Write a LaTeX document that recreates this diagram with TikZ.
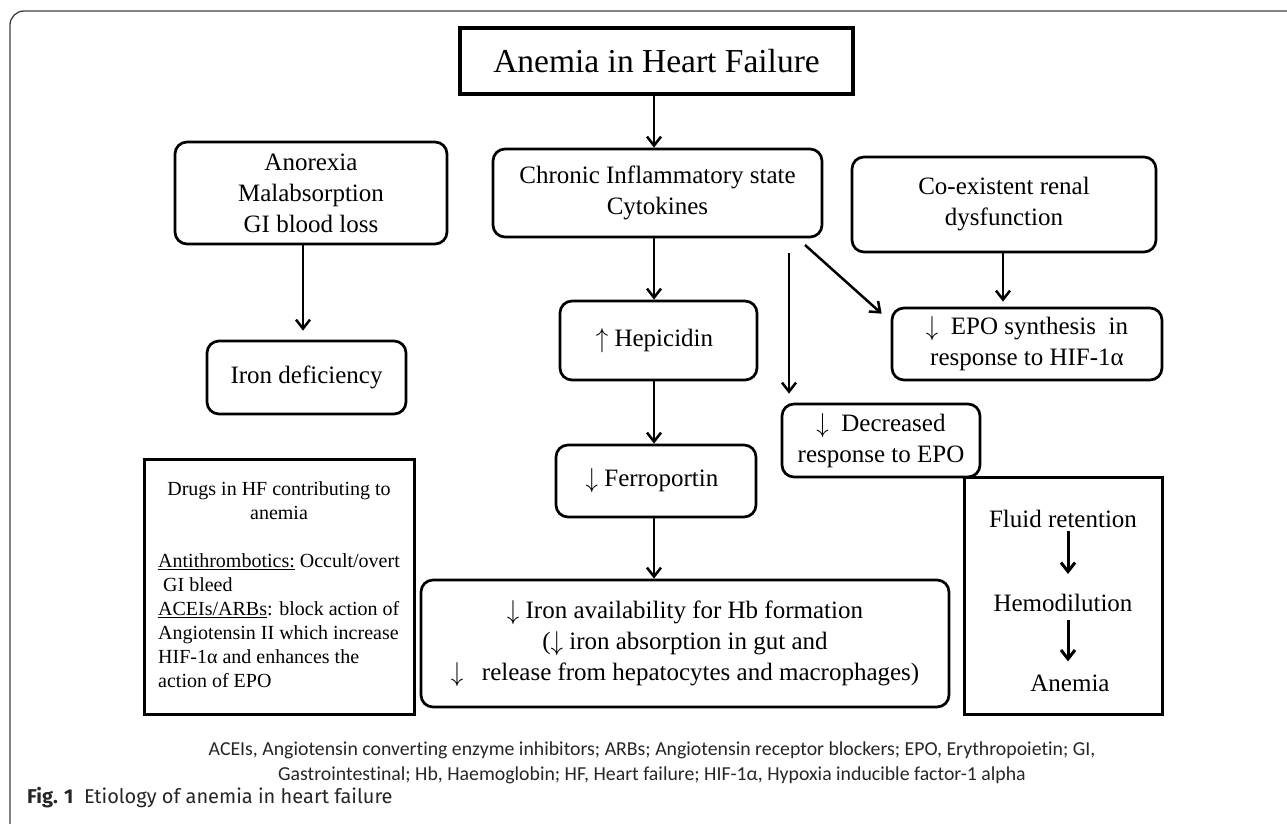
\documentclass[tikz,border=0pt]{standalone}
\usepackage{fontspec}
\usepackage{graphicx}
\setmainfont{Liberation Serif}
\newfontfamily\capfont[Ligatures=NoCommon]{Carlito}
\newfontfamily\figfont{Fira Sans}
\usetikzlibrary{arrows.meta}
\newcommand{\dn}{\raisebox{-1pt}{\scalebox{1}[1.1]{$\downarrow$}}}
\newcommand{\upa}{\raisebox{-1pt}{\scalebox{1}[1.1]{$\uparrow$}}}
\begin{document}
\begin{tikzpicture}[x=1pt,y=-1pt,
  box/.style={draw, line width=2.7pt, rounded corners=12pt, align=center, inner sep=0pt, font=\fontsize{25}{31}\selectfont},
  sqbox/.style={draw, line width=3pt, inner sep=0pt},
  arr/.style={line width=2.5pt, -{Straight Barb[length=9pt,width=14pt]}},
  plain/.style={inner sep=3pt, font=\fontsize{25}{30}\selectfont},
  ]
\useasboundingbox (0,0) rectangle (1287,824);
\draw[line width=1.3pt, black!75, rounded corners=14pt] (10,824) -- (10,11) -- (1287,11);

\coordinate (cx) at (654,0);
\coordinate (ax) at (303,0);

\node[box, rounded corners=0pt, line width=4pt, minimum width=393pt, minimum height=66pt, font=\fontsize{33.5}{38}\selectfont] (title) at (656.5,61) {Anemia in Heart Failure};
\node[box, minimum width=329pt, minimum height=88pt] (chronic) at (657.5,193) {Chronic Inflammatory state\\Cytokines};
\node[box, minimum width=272pt, minimum height=102pt] (anor) at (311,193) {Anorexia\\Malabsorption\\GI blood loss};
\node[box, minimum width=199pt, minimum height=73pt] (irondef) at (306.5,377.5) {Iron deficiency};
\node[box, minimum width=197pt, minimum height=79pt] (hep) at (658.5,340.5) {\upa\ Hepicidin\hspace{8pt}};
\node[box, minimum width=304pt, minimum height=95pt] (renal) at (1004,204.5) {Co-existent renal\\dysfunction};
\node[box, minimum width=270pt, minimum height=72pt] (epo) at (1027,344) {\dn\ \ EPO synthesis\ \ in\\response to HIF-1α};
\node[box, minimum width=198pt, minimum height=73pt] (dec) at (881,440.5) {\dn\ \ Decreased\hspace{16pt}\\response to EPO};
\node[box, minimum width=200pt, minimum height=72pt] (ferro) at (656,481) {\dn\ Ferroportin\hspace{8pt}};
\node[box, minimum width=528pt, minimum height=127pt] (avail) at (685,643.5) {\dn\ Iron availability for Hb formation\\(\dn\ iron absorption in gut and\\\dn\ \ \ release from hepatocytes and macrophages)};

\node[sqbox, minimum width=270pt, minimum height=255pt, font=\fontsize{20}{24}\selectfont] (drugs) at (279,586.5)
 {\begin{tabular}{@{}l@{}}
 \multicolumn{1}{@{}c@{}}{Drugs in HF contributing to}\\
 \multicolumn{1}{@{}c@{}}{anemia}\\[24pt]
 \underline{Antithrombotics:} Occult/overt\\
 \ GI bleed\\
 \underline{ACEIs/ARBs}: block action of\\
 Angiotensin II which increase\\
 HIF-1α and enhances the\\
 action of EPO
 \end{tabular}\hspace{10pt}};

\node[sqbox, minimum width=198pt, minimum height=237pt] (fluidbox) at (1063,595.5) {};
\node[plain] (fl) at (1063,519) {Fluid retention};
\node[plain] (hd) at (1063,603) {Hemodilution};
\node[plain] (an) at (1070,683) {Anemia};

\coordinate (d1) at (805,245);
\coordinate (v1) at (789,253);

\draw[arr] (title.south -| cx) -- (chronic.north -| cx);
\draw[arr] (chronic.south -| cx) -- (hep.north -| cx);
\draw[arr] (hep.south -| cx) -- (ferro.north -| cx);
\draw[arr] (ferro.south -| cx) -- (avail.north -| cx);
\draw[arr] (anor.south -| ax) -- ([yshift=9pt]irondef.north -| ax);
\draw[arr, shorten >=5pt] (renal.south -| 1003,0) -- (epo.north -| 1003,0);
\draw[arr] (d1) -- ([shift={(-9,7)}]epo.north west);
\draw[arr, shorten >=9pt] (v1) -- (v1 |- dec.north);
\draw[arr, line width=3pt, shorten >=17pt] (fl.south -| 1068,0) -- (hd.north -| 1068,0);
\draw[arr, line width=3pt, shorten <=5pt, shorten >=10pt] (hd.south -| 1068,0) -- (an.north -| 1068,0);

\node[align=center, inner sep=0pt, font=\capfont\fontsize{19.8}{25}\selectfont, text=black!85] (cap) at (652,763)
 {ACEIs, Angiotensin converting enzyme inhibitors; ARBs; Angiotensin receptor blockers; EPO, Erythropoietin; GI,\\Gastrointestinal; Hb, Haemoglobin; HF, Heart failure; HIF-1α, Hypoxia inducible factor-1 alpha};
\node[anchor=west, inner sep=0pt, font=\figfont\fontsize{20}{24}\selectfont, text=black!85] (fig) at (27,798) {\textbf{Fig. 1}\ \ Etiology of anemia in heart failure};
\end{tikzpicture}
\end{document}
